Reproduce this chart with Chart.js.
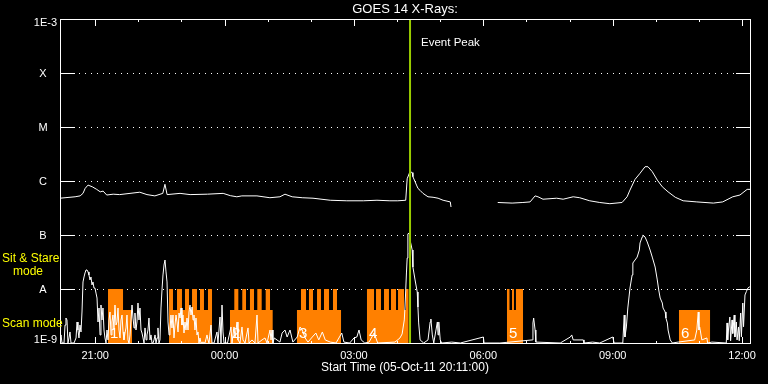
<!DOCTYPE html>
<html>
<head>
<meta charset="utf-8">
<script src="https://cdn.jsdelivr.net/npm/chart.js@4.4.1/dist/chart.umd.min.js"></script>
<style>
html,body{margin:0;padding:0;background:#000;overflow:hidden}
#wrap{width:768px;height:384px}
</style>
</head>
<body>
<div id="wrap"><canvas id="c" width="768" height="384"></canvas></div>
<script>
// ---- text ----
const chartTitle = 'GOES 14 X-Rays:';
const xAxisTitle = 'Start Time (05-Oct-11 20:11:00)';
const eventLabel = 'Event Peak';
const modeLabels = ['Sit & Stare', 'mode', 'Scan mode'];

// ---- axes (x in minutes since 05-Oct-11 20:11:00, y in W/m^2) ----
const xMin = 0, xMax = 960;
const xTickTimes = [49, 229, 409, 589, 769, 949];
const xTickLabels = ['21:00', '00:00', '03:00', '06:00', '09:00', '12:00'];
const yTickValues = [1e-9, 1e-8, 1e-7, 1e-6, 1e-5, 1e-4, 1e-3];
const yTickLabels = ['1E-9', 'A', 'B', 'C', 'M', 'X', '1E-3'];

// ---- long channel (upper curve) ----
const upperTimes = [0,7,21,28,32,35,39,45,51,56,60,65,74,83,111,121,132,143,146,149,167,181,205,227,237,246,253,274,292,306,313,323,337,352,376,399,422,441,459,470,481,483,487,490,491,494,496,498,501,505,512,519,526,533,543,544,575,609,629,644,654,661,665,672,691,700,714,723,737,751,765,782,789,793,800,807,814,818,824,831,838,846,856,867,886,909,922,936,946,956,960];
const upperFlux = [4.8e-7,4.9e-7,5.1e-7,5.3e-7,5.9e-7,7.3e-7,8.4e-7,7.8e-7,7.0e-7,6.3e-7,6.5e-7,5.5e-7,5.7e-7,5.6e-7,6.2e-7,5.6e-7,5.3e-7,5.9e-7,8.7e-7,5.6e-7,5.9e-7,5.6e-7,5.7e-7,5.9e-7,5.35e-7,5.1e-7,5.3e-7,5.3e-7,4.9e-7,5.1e-7,5.7e-7,5.1e-7,4.9e-7,4.8e-7,4.4e-7,4.3e-7,4.3e-7,4.4e-7,4.3e-7,4.3e-7,4.4e-7,1.1e-6,1.5e-6,1.43e-6,1.2e-6,9.7e-7,8.4e-7,7.3e-7,6.7e-7,5.9e-7,5.1e-7,5.0e-7,4.8e-7,4.4e-7,4.1e-7,3.3e-7,null,4.0e-7,3.9e-7,4.0e-7,4.1e-7,5.3e-7,5.1e-7,4.6e-7,4.8e-7,4.6e-7,5.1e-7,4.9e-7,4.3e-7,4.0e-7,3.8e-7,4.0e-7,5.1e-7,6.8e-7,1.07e-6,1.39e-6,1.84e-6,1.84e-6,1.49e-6,1.04e-6,7.8e-7,6.3e-7,5.0e-7,4.3e-7,4.1e-7,3.9e-7,4.1e-7,5.1e-7,5.5e-7,7.0e-7,7.0e-7];

// ---- short channel (lower curve) ----
const lowerTimes = [
  0,1.4,2.8,5.6,7.0,8.3,9.7,11.1,12.5,13.9,15.3,19.5,22.3,23.7,25.0,26.4,27.8,29.2,30.6,32.0,33.4,34.8,36.2,37.6,39.0,40.3,41.7,43.1,44.5,45.9,47.3,48.7,50.1,51.5,52.9,54.3,
  55.7,57.0,58.4,59.8,61.2,62.6,64.0,65.4,66.8,68.2,69.6,71.0,72.3,73.7,75.1,76.5,77.9,79.3,80.7,82.1,83.5,84.9,86.3,87.7,89.0,90.4,91.8,93.2,94.6,96.0,97.4,98.8,100.2,101.6,103.0,104.3,105.7,107.1,108.5,109.9,111.3,112.7,114.1,115.5,116.9,118.3,119.7,121.0,122.4,123.8,125.2,126.6,128.0,129.4,130.8,132.2,133.6,135.0,136.3,137.7,139.1,140.5,141.9,143.3,144.7,146.1,147.5,148.9,150.3,151.7,153.0,154.4,155.8,157.2,158.6,160.0,161.4,162.8,164.2,165.6,167.0,168.4,169.7,171.1,172.5,173.9,175.3,176.7,178.1,179.5,180.9,182.3,183.7,185.1,186.4,187.8,189.2,190.6,192.0,193.4,194.8,
  196.2,199.0,201.7,204.5,205.9,207.3,210.1,211.5,214.3,218.4,219.8,222.6,224.0,225.4,226.8,228.2,233.0,237.9,239.3,242.1,243.5,246.3,247.6,250.4,253.2,254.6,257.4,261.6,263.0,267.1,271.3,274.1,275.5,281.0,285.2,288.0,292.2,293.6,295.0,296.3,
  298,306,309,313,316,320,324,330,334,337,341,345,351,356,360,365,369,376,384,392,395,403,409,413,416,419,424,430,437,442,466,473,476,479,480,482,483,484,486,487,490,491,494,497,498,499,501,506,512,515,516,518,520,525,526,527,529,531,545,557,589,590,612,657,658,659,661,662,696,710,712,714,728,729,741,751,769,771,783,785,786,788,790,793,796,797,803,806,807,810,811,814,817,821,824,828,831,833,835,838,839,842,843,845,846,849,852,860,883,886,888,889,890,893,900,901,907,
  927,928,929,930,932,933,935,936,938,939,941,942,944,945,947,948,950,951,953,955,957,959,960
];
const lowerFlux = [
  1.0e-9,1.41e-9,1.0e-9,1.0e-9,2.15e-9,2.9e-9,2.67e-9,1.0e-9,1.24e-9,1.6e-9,1.0e-9,1.0e-9,1.24e-9,2.45e-9,1.74e-9,1.24e-9,2.15e-9,1.6e-9,3.75e-9,1.35e-8,1.67e-8,1.98e-8,2.25e-8,2.25e-8,2.07e-8,1.82e-8,1.47e-8,1.67e-8,1.19e-8,1.35e-8,1.04e-8,1.04e-8,8.4e-9,6.8e-9,2.45e-9,4.45e-9,
  1.41e-9,5.05e-9,2.67e-9,4.45e-9,1.74e-9,1.24e-9,1.0e-9,1.74e-9,1.14e-9,2.67e-9,3.75e-9,1.41e-9,2.45e-9,3.3e-9,1.74e-9,5.05e-9,2.15e-9,2.45e-9,4.45e-9,1.74e-9,1.24e-9,2.67e-9,3.3e-9,1.6e-9,1.14e-9,1.53e-9,1.9e-9,3.3e-9,1.14e-9,1.0e-9,1.41e-9,2.67e-9,5.05e-9,2.9e-9,1.9e-9,3.59e-9,1.74e-9,2.45e-9,5.5e-9,2.67e-9,4.45e-9,1.74e-9,1.53e-9,1.24e-9,1.0e-9,1.9e-9,1.14e-9,1.41e-9,1.74e-9,2.9e-9,1.14e-9,1.41e-9,1.0e-9,1.0e-9,1.14e-9,1.41e-9,1.0e-9,1.24e-9,1.9e-9,1.0e-9,1.14e-9,4.45e-9,9.6e-9,1.82e-8,2.78e-8,3.44e-8,2.07e-8,1.35e-8,2.45e-9,1.41e-9,1.74e-9,3.3e-9,1.9e-9,3.3e-9,1.24e-9,2.15e-9,3.3e-9,2.45e-9,1.6e-9,3.59e-9,2.9e-9,4.45e-9,2.15e-9,3.3e-9,1.53e-9,2.45e-9,1.74e-9,2.9e-9,1.74e-9,3.75e-9,5.05e-9,3.3e-9,4.64e-9,2.67e-9,3.3e-9,1.74e-9,2.9e-9,1.41e-9,1.6e-9,1.0e-9,1.24e-9,
  1.0e-9,1.04e-9,1.0e-9,1.41e-9,1.14e-9,1.0e-9,2.15e-9,1.0e-9,1.0e-9,1.6e-9,1.0e-9,3.03e-9,1.0e-9,5.05e-9,1.6e-9,1.0e-9,1.0e-9,1.98e-9,1.0e-9,1.98e-9,1.24e-9,2.45e-9,1.14e-9,1.0e-9,1.98e-9,1.14e-9,1.0e-9,1.9e-9,1.0e-9,1.14e-9,1.0e-9,3.3e-9,1.0e-9,1.14e-9,1.24e-9,1.0e-9,1.74e-9,1.14e-9,1.74e-9,1.0e-9,
  1.24e-9,1.04e-9,1.53e-9,1.74e-9,1.29e-9,1.74e-9,1.04e-9,1.29e-9,1.98e-9,1.74e-9,1.24e-9,1.04e-9,1.29e-9,1.53e-9,1.14e-9,1.6e-9,1.14e-9,1.04e-9,1.0e-9,1.53e-9,1.04e-9,1.0e-9,1.24e-9,1.29e-9,1.74e-9,1.14e-9,1.0e-9,1.04e-9,1.53e-9,1.0e-9,1.04e-9,1.24e-9,1.47e-9,2.67e-9,4.64e-9,1.98e-8,3.74e-8,1.05e-7,1.09e-7,8.1e-8,5.27e-8,2.55e-8,1.47e-8,8.8e-9,4.64e-9,2.35e-9,1.14e-9,1.0e-9,1.14e-9,2.45e-9,2.78e-9,1.41e-9,1.0e-9,2.45e-9,1.41e-9,2.45e-9,1.14e-9,1.0e-9,1.04e-9,1.0e-9,1.29e-9,1.0e-9,1.0e-9,1.14e-9,2.35e-9,2.9e-9,1.74e-9,1.04e-9,1.0e-9,1.29e-9,1.41e-9,1.14e-9,1.14e-9,1.0e-9,1.04e-9,1.0e-9,1.29e-9,1.0e-9,1.0e-9,3.3e-9,1.29e-9,1.98e-9,4.45e-9,1.04e-8,1.82e-8,3.03e-8,3.9e-8,5.27e-8,7.12e-8,9.17e-8,1.0e-7,9.17e-8,7.43e-8,5.27e-8,3.9e-8,2.55e-8,1.47e-8,9.6e-9,6.8e-9,5.5e-9,4.45e-9,3.75e-9,2.9e-9,2.35e-9,1.74e-9,1.14e-9,1.0e-9,1.04e-9,1.14e-9,1.74e-9,3.75e-9,1.74e-9,1.98e-9,1.14e-9,1.24e-9,1.0e-9,1.04e-9,
  1.0e-9,2.35e-9,1.14e-9,1.74e-9,3.03e-9,1.1e-9,2.67e-9,1.5e-9,3.3e-9,1.29e-9,2.45e-9,1.14e-9,1.98e-9,1.1e-9,3.59e-9,1.3e-9,5.5e-9,2.0e-9,7.75e-9,9.0e-9,1.04e-8,1.09e-8,1.09e-8
];

// ---- observing mode timeline (level holds from each time until the next) ----
const obsTimes = [66.8,87.7,100.2, 151.7,157.2,162.8,169.7,173.9,179.5,183.7,190.6,194.8,200.3,205.9,211.5, 236.5,242.5,248.1,253.6,258.8,264.3,269.9,274.5,280.6,286.2,292.2,295.9, 329.7,335.3,342.3,346.4,352,357.6,363.1,367.3,374.3,379.8,385.4,391, 427.1,436.9,439.7,446.6,450.8,457.7,460.5,467.5,470.3,478.6,481.4,484.9, 621.9,625.4,628.9,631.6,634.4,644.2, 861.2,904.4];
const obsFlux  = [1e-8,4.1e-9,1e-9, 1e-8,4.1e-9,1e-8,4.1e-9,1e-8,4.1e-9,1e-8,4.1e-9,1e-8,4.1e-9,1e-8,1e-9, 4.1e-9,1e-8,4.1e-9,1e-8,4.1e-9,1e-8,4.1e-9,1e-8,4.1e-9,1e-8,4.1e-9,1e-9, 4.1e-9,1e-8,4.1e-9,1e-8,4.1e-9,1e-8,4.1e-9,1e-8,4.1e-9,1e-8,4.1e-9,1e-9, 1e-8,4.1e-9,1e-8,4.1e-9,1e-8,4.1e-9,1e-8,4.1e-9,1e-8,4.1e-9,1e-8,1e-9, 1e-8,4.1e-9,1e-8,4.1e-9,1e-8,1e-9, 4.1e-9,1e-9];
const blockLabels = ['1', '2', '3', '4', '5', '6'];
const blockLabelTimes = [66.8, 236.5, 329.7, 427.1, 621.9, 861.2];

const eventPeakTime = 487;

// ---- build point tables ----
const upperPts = upperTimes.map((t, i) => ({x: t, y: upperFlux[i]}));
const lowerPts = lowerTimes.map((t, i) => ({x: t, y: lowerFlux[i]}));
const obsPts = [{x: xMin, y: 1e-9}];
let prevLevel = 1e-9;
obsTimes.forEach((t, i) => {
  obsPts.push({x: t, y: prevLevel});
  obsPts.push({x: t, y: obsFlux[i]});
  prevLevel = obsFlux[i];
});
obsPts.push({x: xMax, y: prevLevel});

const FONT = "'Liberation Sans', Arial, sans-serif";

const overlay = {
  id: 'overlay',
  beforeDraw(chart) {
    const c = chart.ctx;
    c.save();
    c.fillStyle = '#000';
    c.fillRect(0, 0, chart.width, chart.height);
    c.restore();
  },
  beforeDatasetsDraw(chart) {
    const c = chart.ctx, a = chart.chartArea, y = chart.scales.y;
    c.save();
    c.fillStyle = '#fff';
    yTickValues.slice(1, -1).forEach(v => {
      const py = Math.round(y.getPixelForValue(v));
      for (let px = a.left + 1; px < a.right; px += 6) c.fillRect(px, py, 1, 1);
    });
    c.restore();
  },
  afterDatasetsDraw(chart) {
    const c = chart.ctx, a = chart.chartArea, x = chart.scales.x, y = chart.scales.y;
    c.save();
    c.strokeStyle = '#fff';
    c.lineWidth = 1;
    c.strokeRect(a.left + 0.5, a.top + 0.5, a.right - a.left, a.bottom - a.top);
    c.beginPath();
    yTickValues.forEach(v => {
      const py = Math.round(y.getPixelForValue(v)) + 0.5;
      c.moveTo(a.left, py); c.lineTo(a.left + 15, py);
      c.moveTo(a.right - 14, py); c.lineTo(a.right + 1, py);
    });
    for (let t = xTickTimes[0]; t <= xMax; t += 60) {
      const px = Math.round(x.getPixelForValue(t)) + 0.5;
      const len = xTickTimes.includes(t) ? 7 : 3;
      c.moveTo(px, a.top); c.lineTo(px, a.top + len);
      c.moveTo(px, a.bottom + 1); c.lineTo(px, a.bottom + 1 - len);
    }
    c.stroke();

    c.fillStyle = '#fff';
    c.textBaseline = 'middle';
    c.font = '13px ' + FONT;
    c.textAlign = 'center';
    c.fillText(chartTitle, (a.left + a.right) / 2, 9);

    c.font = '11px ' + FONT;
    xTickTimes.forEach((t, i) => {
      c.fillText(xTickLabels[i], x.getPixelForValue(t), 356);
    });
    c.font = '12px ' + FONT;
    c.fillText(xAxisTitle, (a.left + a.right) / 2, 368);

    c.font = '11px ' + FONT;
    yTickValues.forEach((v, i) => {
      const py = y.getPixelForValue(v);
      const lab = yTickLabels[i];
      if (lab.length > 1) {
        c.textAlign = 'right';
        c.fillText(lab, 57, i === 0 ? py - 3 : py + 4);
      } else {
        c.textAlign = 'center';
        c.fillText(lab, 43, py + 1);
      }
    });

    c.textAlign = 'left';
    c.font = '11.5px ' + FONT;
    c.fillText(eventLabel, x.getPixelForValue(eventPeakTime) + 11, 43);

    c.font = '15px ' + FONT;
    c.textBaseline = 'alphabetic';
    blockLabels.forEach((lab, i) => {
      c.fillText(lab, x.getPixelForValue(blockLabelTimes[i]) + 2, 338);
    });

    c.fillStyle = '#ffff00';
    c.font = '12px ' + FONT;
    c.textBaseline = 'middle';
    c.fillText(modeLabels[0], 2, 259);
    c.fillText(modeLabels[1], 13, 272);
    c.fillText(modeLabels[2], 2, 324);
    c.restore();
  }
};

new Chart(document.getElementById('c'), {
  type: 'line',
  data: {
    datasets: [
      {
        label: 'Event Peak',
        data: [{x: eventPeakTime, y: yTickValues[0]}, {x: eventPeakTime, y: yTickValues[6]}],
        borderColor: '#99cc00', borderWidth: 2, pointRadius: 0, fill: false
      },
      {
        label: 'GOES 14 1.0-8.0 A',
        data: upperPts,
        borderColor: '#ffffff', borderWidth: 1, pointRadius: 0, fill: false,
        spanGaps: false, tension: 0
      },
      {
        label: 'GOES 14 0.5-4.0 A',
        data: lowerPts,
        borderColor: '#ffffff', borderWidth: 1, pointRadius: 0, fill: false, tension: 0
      },
      {
        label: 'Observing mode',
        data: obsPts,
        borderColor: 'rgba(0,0,0,0)', borderWidth: 0, pointRadius: 0,
        backgroundColor: '#ff8000', fill: 'start', tension: 0
      }
    ]
  },
  options: {
    responsive: false,
    devicePixelRatio: 1,
    animation: false,
    events: [],
    layout: {padding: {left: 60, right: 18, top: 19, bottom: 41}},
    plugins: {legend: {display: false}, tooltip: {enabled: false}, title: {display: false}},
    scales: {
      x: {type: 'linear', min: xMin, max: xMax, display: false},
      y: {type: 'logarithmic', min: 1e-9, max: 1e-3, display: false}
    }
  },
  plugins: [overlay]
});
</script>
</body>
</html>
